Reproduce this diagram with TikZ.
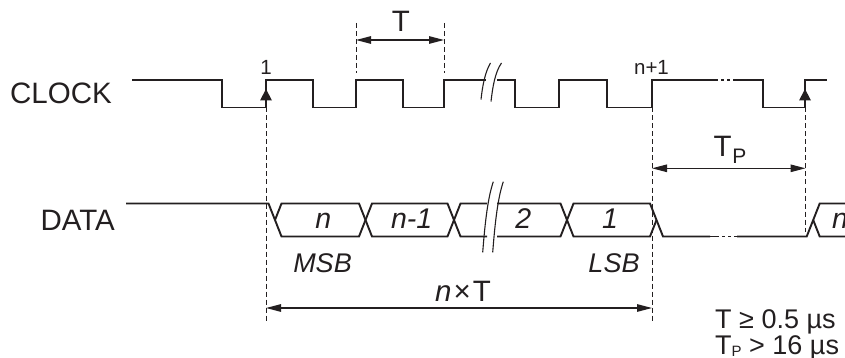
\documentclass[tikz,border=0pt]{standalone}
\usepackage{fontspec}
\setmainfont{Liberation Sans}
\usetikzlibrary{arrows.meta}
\definecolor{ink}{RGB}{35,31,32}
\tikzset{
  wave/.style={draw=ink, line width=1.9pt, line join=miter},
  guide/.style={draw=ink, line width=0.9pt, dash pattern=on 5pt off 3pt},
  dim/.style={draw=ink, line width=1.2pt, {Triangle[length=15pt,width=7.5pt]}-{Triangle[length=15pt,width=7.5pt]}},
  brk/.style={draw=ink, line width=1.1pt},
  gapdots/.style={draw=ink, line width=1.9pt, dash pattern=on 9pt off 3pt on 3pt off 3pt on 3pt off 3pt},
  big/.style={text=ink, inner sep=0pt, font=\fontsize{29.5}{29.5}\selectfont},
  lbl/.style={text=ink, inner sep=0pt, font=\fontsize{28.5}{28.5}\selectfont\itshape},
  sml/.style={text=ink, inner sep=0pt, font=\fontsize{20.5}{20.5}\selectfont},
  note/.style={text=ink, inner sep=0pt, font=\fontsize{27}{27}\selectfont, anchor=base west},
  edgetip/.style={fill=ink}
}
\begin{document}
\begin{tikzpicture}[x=1pt,y=-1pt]
\useasboundingbox (0,0) rectangle (845,358);
% ---------- labels ----------
\node[big, anchor=base east] (clk) at (112,103.3) {CLOCK};
\node[big, anchor=base east] (dat) at (115,230) {DATA};
% ---------- clock ----------
\path[wave] (132,80) -- (222,80) -- (222,107.5) -- (266,107.5) -- (266,80) -- (313,80) -- (313,107.5)
  -- (356,107.5) -- (356,80) -- (403,80) -- (403,107.5) -- (444,107.5) -- (444,80) -- (486,80);
\path[wave] (497,80) -- (515,80) -- (515,107.5) -- (559,107.5) -- (559,80) -- (607,80) -- (607,107.5)
  -- (652,107.5) -- (652,80) -- (709,80);
\path[gapdots] (709,80) -- (737,80);
\path[wave] (737,80) -- (763,80) -- (763,107.5) -- (805,107.5) -- (805,80) -- (827,80);
\fill[edgetip] (260,100.5) -- (266,89) -- (272,100.5) -- cycle;
\fill[edgetip] (799,100.5) -- (805,89) -- (811,100.5) -- cycle;
% clock break
\path[brk] (481,99.5) .. controls (482.5,86) and (485,72) .. (490.5,63);
\path[brk] (491,101.5) .. controls (492.5,88) and (495,72) .. (501.5,63);
\node[sml, anchor=base] (one) at (266,75) {1};
\node[sml, anchor=base] (np1) at (651.5,75) {n+1};
% ---------- data ----------
\path[wave] (126,203.5) -- (268.5,203.5) -- (281.5,236.5) -- (359,236.5) -- (372,203.5) -- (447.5,203.5)
  -- (460.5,236.5) -- (487,236.5);
\path[wave] (275,220) -- (281.5,203.5) -- (359,203.5) -- (372,236.5) -- (447.5,236.5) -- (460.5,203.5) -- (487,203.5);
\path[wave] (497,203.5) -- (560.5,203.5) -- (573.5,236.5) -- (650,236.5) -- (656.5,220);
\path[wave] (497,236.5) -- (560.5,236.5) -- (573.5,203.5) -- (650,203.5) -- (663,236.5) -- (710,236.5);
\path[gapdots] (710,236.5) -- (737,236.5);
\path[wave] (737,236.5) -- (806.7,236.5) -- (819.7,203.5) -- (850,203.5);
\path[wave] (813.2,220) -- (819.7,236.5) -- (850,236.5);
% data break
\path[brk] (482.7,252.3) .. controls (484.5,230) and (487,200) .. (493.3,181.7);
\path[brk] (492.7,252.3) .. controls (494.5,230) and (497,200) .. (503.3,181.7);
% data texts
\node[lbl, anchor=base] (bn) at (323.3,228.5) {n};
\node[lbl, anchor=base] (bn1) at (411.7,228.5) {n-1};
\node[lbl, anchor=base] (b2) at (523.3,228.5) {2};
\node[lbl, anchor=base] (b1) at (610,228.5) {1};
\node[lbl, anchor=base west] (bnr) at (832,228.5) {n};
\node[lbl, anchor=base, font=\fontsize{27}{27}\selectfont\itshape] (msb) at (322.5,272) {MSB};
\node[lbl, anchor=base, font=\fontsize{27}{27}\selectfont\itshape] (lsb) at (614,272) {LSB};
% ---------- guides ----------
\coordinate (g1t) at (266,107.5); \coordinate (g1b) at (266,322);
\coordinate (g2t) at (652,107.5); \coordinate (g2b) at (652,322);
\coordinate (g3t) at (805,107.5); \coordinate (g3b) at (805,232);
\coordinate (g4t) at (356,23); \coordinate (g4b) at (356,73);
\coordinate (g5t) at (444,23); \coordinate (g5b) at (444,73);
\path[guide] (g1t) -- (g1b);
\path[guide] (g2t) -- (g2b);
\path[guide] (g3t) -- (g3b);
\path[guide] (g4t) -- (g4b);
\path[guide] (g5t) -- (g5b);
% ---------- dimensions ----------
\coordinate (ta) at (356,40); \coordinate (tb) at (444,40);
\path[dim] (ta) -- (tb);
\node[big, anchor=base] (tl) at (401,31.7) {T};
\coordinate (pa) at (652,168.3); \coordinate (pb) at (805.5,168.3);
\path[dim] (pa) -- (pb);
\node[big, anchor=base] (tpl) at (730,156.7) {T\kern0.5pt\raisebox{-6.5pt}{\fontsize{21}{21}\selectfont P}};
\coordinate (na) at (266,308); \coordinate (nb) at (652,308);
\path[dim] (na) -- (nb);
\node[big, anchor=base] (ntl) at (463,301) {\textit{n}\kern2pt×\kern2ptT};
% ---------- notes ----------
\node[note] (n1) at (715,328.3) {T ≥ 0.5 µs};
\node[note] (n2) at (715,354) {T\raisebox{-2pt}{\fontsize{15}{15}\selectfont P} > 16 µs};
\end{tikzpicture}
\end{document}
